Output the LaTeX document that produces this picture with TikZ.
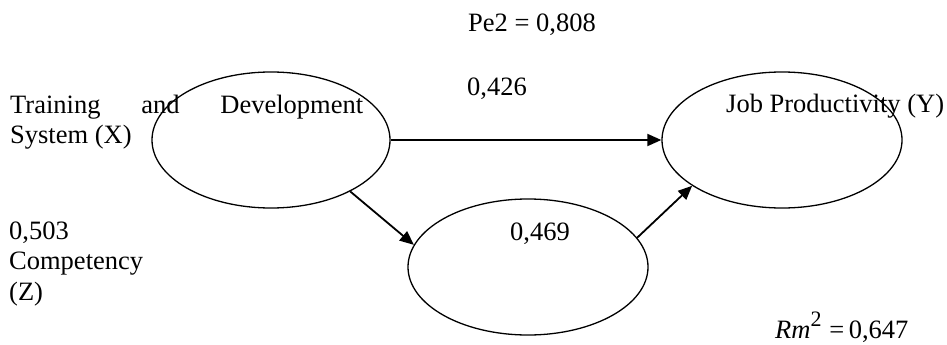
\documentclass[tikz,border=0pt]{standalone}
\usepackage{fontspec}
\setmainfont{Liberation Serif}
\usetikzlibrary{shapes.geometric,arrows.meta}
\begin{document}
\begin{tikzpicture}[x=1pt,y=-1pt,
  every node/.style={font=\fontsize{26.5}{30.5}\selectfont},
  latent/.style={draw,line width=1.3pt,ellipse,inner sep=0pt},
  lbl/.style={anchor=base west,inner sep=0pt},
  path/.style={line width=1.8pt,-{Triangle[length=14pt,width=12pt]}}]
\useasboundingbox (0,0) rectangle (947,345);
% latent variables
\node[latent,minimum width=238pt,minimum height=136pt] (X) at (271,140) {};
\node[latent,minimum width=240pt,minimum height=136pt] (Y) at (782,140) {};
\node[latent,minimum width=240pt,minimum height=136pt] (Z) at (528,267) {};
% texts
\node[lbl,text width=353pt,align=justify] (tx) at (10,113)
  {\tolerance=10000\hyphenpenalty=10000 Training and Development\linebreak System (X)};
\node[lbl,align=left] (tz) at (9,300) {0,503\\Competency\\(Z)};
\node[lbl] (pe) at (468,32) {Pe2 = 0,808};
\node[lbl] (cxy) at (467,95) {0,426};
\node[lbl] (czy) at (510,240) {0,469};
\node[lbl] (ty) at (726,112) {Job Productivity (Y)};
\node[lbl] (rm) at (775,338) {\textit{Rm}\raisebox{0.42em}{\fontsize{22}{22}\selectfont 2}\hspace{0.3em}=\,0,647};
% paths
\draw[path] (X.east) -- (Y.west);
\draw[path] (X.-33.4) -- (Z.169.3);
\draw[path] (Z.15.4) -- (Y.207.3);
\end{tikzpicture}
\end{document}
